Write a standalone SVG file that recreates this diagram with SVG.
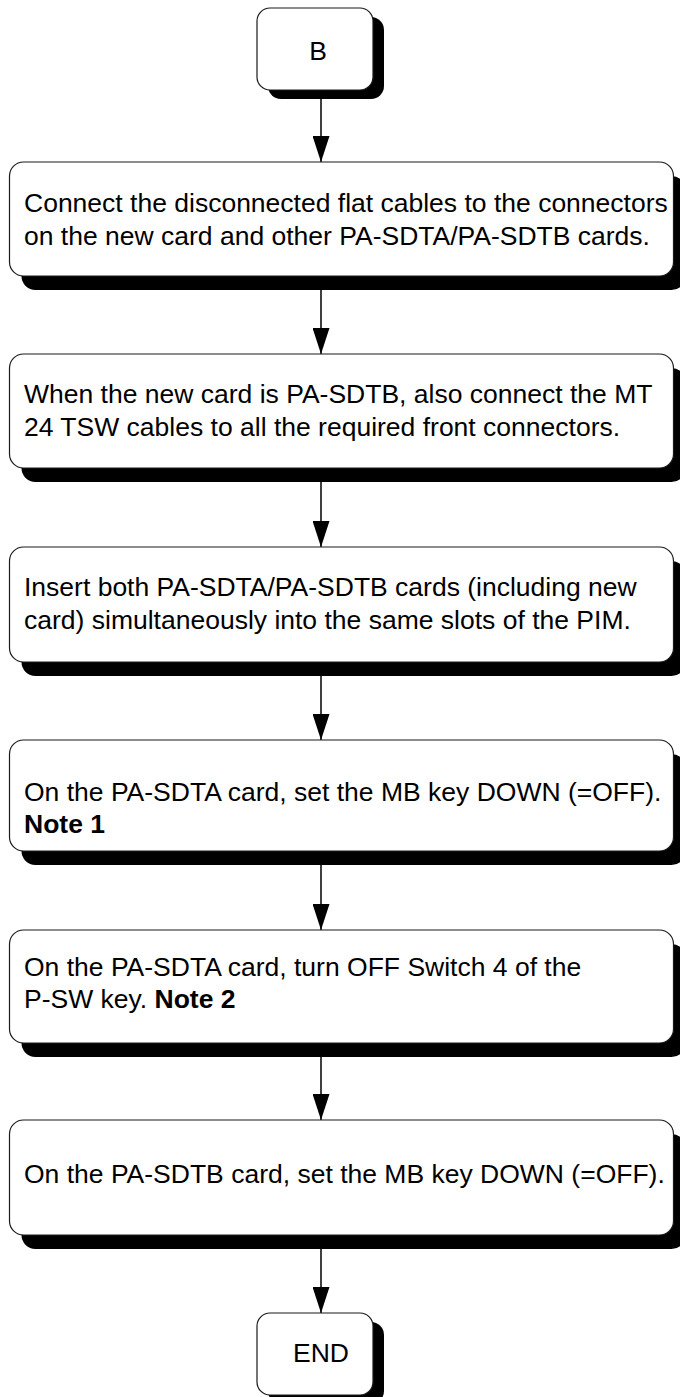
<svg xmlns="http://www.w3.org/2000/svg" width="680" height="1397" viewBox="0 0 680 1397">
<style>
.bg{fill:#ffffff}
.shadow{fill:#000000}
.box{fill:#ffffff;stroke:#1a1a1a;stroke-width:1.2}
.t{font-family:"Liberation Sans",Arial,Helvetica,sans-serif;font-size:26.5px;fill:#000000}
.b{font-weight:bold}
.conn{stroke:#000000;stroke-width:1.5;fill:none}
</style>
<defs>
<marker id="arr" viewBox="0 0 26 17" refX="26" refY="8.5" markerWidth="26" markerHeight="17" markerUnits="userSpaceOnUse" orient="auto">
<path d="M0,0 L26,8.5 L0,17 Z" fill="#000000"/>
</marker>
</defs>
<rect class="bg" x="0" y="0" width="680" height="1397"/>
<g id="connectors">
<line class="conn" x1="321" y1="99" x2="321" y2="162" marker-end="url(#arr)"/>
<line class="conn" x1="321" y1="290" x2="321" y2="354" marker-end="url(#arr)"/>
<line class="conn" x1="321" y1="482" x2="321" y2="547" marker-end="url(#arr)"/>
<line class="conn" x1="321" y1="676" x2="321" y2="740" marker-end="url(#arr)"/>
<line class="conn" x1="321" y1="865" x2="321" y2="930" marker-end="url(#arr)"/>
<line class="conn" x1="321" y1="1057" x2="321" y2="1120" marker-end="url(#arr)"/>
<line class="conn" x1="321" y1="1249" x2="321" y2="1313" marker-end="url(#arr)"/>
</g>
<g id="node-B">
<rect class="shadow" x="268" y="17" width="116" height="82" rx="13"/>
<rect class="box" x="257" y="8" width="116" height="82" rx="13"/>
<text class="t" x="318" y="60" text-anchor="middle">B</text>
</g>
<g id="node-1">
<rect class="shadow" x="21.5" y="176" width="664" height="114" rx="14"/>
<rect class="box" x="9.5" y="162" width="664" height="114" rx="14"/>
<text class="t" x="24" y="212">Connect the disconnected flat cables to the connectors</text>
<text class="t" x="24" y="245">on the new card and other PA-SDTA/PA-SDTB cards.</text>
</g>
<g id="node-2">
<rect class="shadow" x="21.5" y="368" width="664" height="114" rx="14"/>
<rect class="box" x="9.5" y="354" width="664" height="114" rx="14"/>
<text class="t" x="24" y="403">When the new card is PA-SDTB, also connect the MT</text>
<text class="t" x="24" y="436">24 TSW cables to all the required front connectors.</text>
</g>
<g id="node-3">
<rect class="shadow" x="21.5" y="561" width="664" height="115" rx="14"/>
<rect class="box" x="9.5" y="547" width="664" height="115" rx="14"/>
<text class="t" x="24" y="596">Insert both PA-SDTA/PA-SDTB cards (including new</text>
<text class="t" x="24" y="629">card) simultaneously into the same slots of the PIM.</text>
</g>
<g id="node-4">
<rect class="shadow" x="21.5" y="754" width="664" height="111" rx="14"/>
<rect class="box" x="9.5" y="740" width="664" height="111" rx="14"/>
<text class="t" x="24" y="801">On the PA-SDTA card, set the MB key DOWN (=OFF).</text>
<text class="t b" x="24" y="833">Note 1</text>
</g>
<g id="node-5">
<rect class="shadow" x="21.5" y="944" width="664" height="113" rx="14"/>
<rect class="box" x="9.5" y="930" width="664" height="113" rx="14"/>
<text class="t" x="24" y="976">On the PA-SDTA card, turn OFF Switch 4 of the</text>
<text class="t" x="24" y="1008">P-SW key. <tspan class="b">Note 2</tspan></text>
</g>
<g id="node-6">
<rect class="shadow" x="21.5" y="1134" width="664" height="115" rx="14"/>
<rect class="box" x="9.5" y="1120" width="664" height="115" rx="14"/>
<text class="t" x="24" y="1183">On the PA-SDTB card, set the MB key DOWN (=OFF).</text>
</g>
<g id="node-END">
<rect class="shadow" x="268" y="1322" width="116" height="82" rx="13"/>
<rect class="box" x="257" y="1313" width="116" height="82" rx="13"/>
<text class="t" x="321" y="1362" text-anchor="middle">END</text>
</g>
</svg>
